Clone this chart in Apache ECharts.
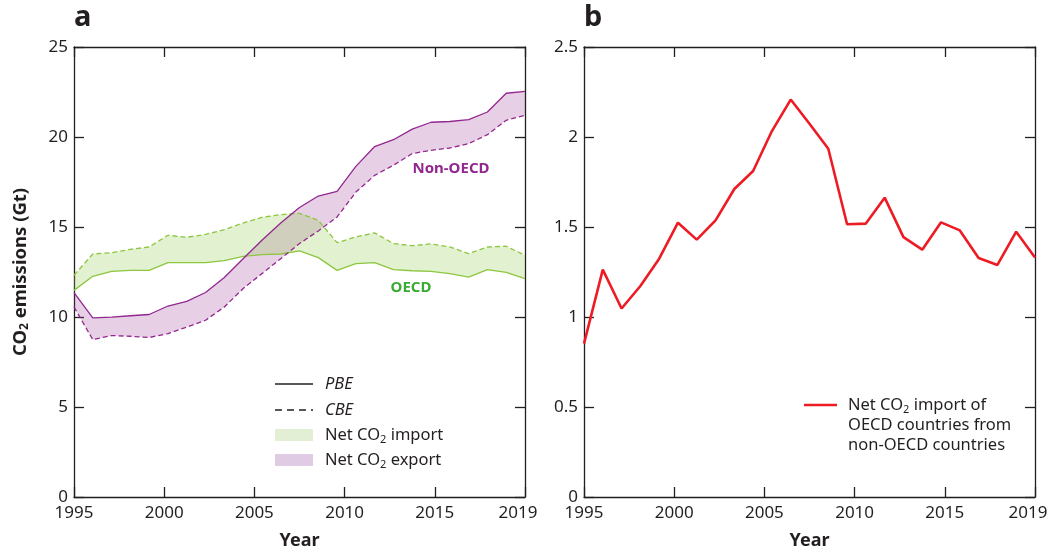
<!DOCTYPE html>
<html><head><meta charset="utf-8">
<script src="https://cdn.jsdelivr.net/npm/echarts@6/dist/echarts.min.js"></script>
<style>html,body{margin:0;padding:0;background:#fff}#c{width:1057px;height:551px}</style>
</head><body><div id="c"></div>
<script>
var years = ['1995','1996','1997','1998','1999','2000','2001','2002','2003','2004','2005','2006','2007','2008','2009','2010','2011','2012','2013','2014','2015','2016','2017','2018','2019'];
var xTickLabels = ['1995','2000','2005','2010','2015','2019'];
var nonOecdPBE = [11.36,9.95,9.99,10.07,10.14,10.61,10.87,11.36,12.19,13.24,14.26,15.22,16.08,16.72,16.98,18.37,19.47,19.85,20.44,20.82,20.86,20.97,21.39,22.43,22.54];
var nonOecdCBE = [10.56,8.74,8.97,8.93,8.86,9.08,9.44,9.82,10.56,11.58,12.41,13.24,14.08,14.78,15.56,16.94,17.87,18.43,19.08,19.26,19.39,19.63,20.13,20.93,21.21];
var oecdPBE = [11.48,12.26,12.54,12.59,12.59,13.02,13.02,13.02,13.13,13.37,13.46,13.50,13.67,13.30,12.59,12.96,13.02,12.63,12.57,12.54,12.41,12.22,12.63,12.48,12.13];
var oecdCBE = [12.32,13.50,13.57,13.76,13.89,14.54,14.43,14.59,14.85,15.22,15.54,15.69,15.76,15.37,14.13,14.45,14.67,14.08,13.96,14.06,13.89,13.52,13.89,13.93,13.43];
var netImport = [0.852,1.263,1.047,1.172,1.324,1.524,1.430,1.537,1.711,1.811,2.033,2.208,2.074,1.935,1.515,1.519,1.663,1.444,1.374,1.526,1.481,1.328,1.289,1.474,1.330];

var FONT = 'Noto Sans';
var AX = '#231f20';
var PURPLE = '#92278f', GREEN = '#8dc63f';
var FS = 17;
function diff(a, b) { return a.map(function (v, i) { return +(v - b[i]).toFixed(3); }); }

function xAxes(g) {
  return [
    { type: 'category', gridIndex: g, data: years, boundaryGap: false, show: false },
    { type: 'value', gridIndex: g, position: 'bottom', min: 1995, max: 2020, interval: 5,
      axisLine: { lineStyle: { color: AX, width: 1.3 } },
      axisTick: { inside: true, length: 10, lineStyle: { color: AX, width: 1.3 } },
      splitLine: { show: false },
      axisLabel: { color: AX, fontFamily: FONT, fontSize: FS, margin: 8,
        formatter: function (v) { var s = xTickLabels[Math.round((v - 1995) / 5)]; return v === 2020 ? '{r|' + s + '}' : s; },
        rich: { r: { fontFamily: FONT, fontSize: FS, color: AX, padding: [0, 14, 0, 0] } } },
      name: 'Year', nameLocation: 'middle', nameGap: 35,
      nameTextStyle: { fontFamily: FONT, fontWeight: 'bold', fontSize: 18, color: AX } },
    { type: 'value', gridIndex: g, position: 'top', min: 1995, max: 2020, interval: 5,
      axisLine: { lineStyle: { color: AX, width: 1.3 } },
      axisTick: { inside: true, length: 10, lineStyle: { color: AX, width: 1.3 } },
      splitLine: { show: false }, axisLabel: { show: false } }
  ];
}
function yAxes(g, max, interval, name) {
  var main = { type: 'value', gridIndex: g, position: 'left', min: 0, max: max, interval: interval,
    axisLine: { show: true, lineStyle: { color: AX, width: 1.3 } },
    axisTick: { show: true, inside: true, length: 10, lineStyle: { color: AX, width: 1.3 } },
    splitLine: { show: false },
    axisLabel: { color: AX, fontFamily: FONT, fontSize: FS, margin: 6 } };
  if (name) {
    main.name = name; main.nameLocation = 'middle'; main.nameGap = 43;
    main.nameTextStyle = { fontFamily: FONT, fontWeight: 'bold', fontSize: 18.5, color: AX,
      rich: { s: { fontFamily: FONT, fontWeight: 'bold', fontSize: 12, color: AX, verticalAlign: 'bottom', padding: [9, 0, 0, 0] } } };
  }
  var mirror = { type: 'value', gridIndex: g, position: 'right', min: 0, max: max, interval: interval,
    axisLine: { show: true, lineStyle: { color: AX, width: 1.3 } },
    axisTick: { show: true, inside: true, length: 10, lineStyle: { color: AX, width: 1.3 } },
    splitLine: { show: false }, axisLabel: { show: false } };
  return [main, mirror];
}
function line(data, color, dashed, width, xi, yi) {
  return { type: 'line', xAxisIndex: xi, yAxisIndex: yi, data: data, showSymbol: false, symbol: 'none',
    lineStyle: { color: color, width: width, type: dashed ? [5, 3] : 'solid' }, z: 5, silent: true };
}
function band(stack, data, fill) {
  var s = { type: 'line', xAxisIndex: 0, yAxisIndex: 0, stack: stack, data: data, showSymbol: false, symbol: 'none',
    lineStyle: { width: 0, opacity: 0 }, z: 2, silent: true };
  if (fill) s.areaStyle = { color: fill, opacity: 1 };
  return s;
}

var chart = echarts.init(document.getElementById('c'), null, { renderer: 'canvas' });
var sub = { fontFamily: FONT, fontSize: 11, fill: AX, padding: [10, 0, 0, 0] };
chart.setOption({
  animation: false,
  backgroundColor: '#fff',
  grid: [
    { left: 74, top: 47, width: 451, height: 450, containLabel: false, outerBoundsMode: 'none' },
    { left: 584, top: 47, width: 451, height: 450, containLabel: false, outerBoundsMode: 'none' }
  ],
  xAxis: xAxes(0).concat(xAxes(1)),
  yAxis: yAxes(0, 25, 5, 'CO{s|2} emissions (Gt)').concat(yAxes(1, 2.5, 0.5, null)),
  series: [
    band('n', nonOecdCBE, null),
    band('n', diff(nonOecdPBE, nonOecdCBE), 'rgba(147,39,143,0.22)'),
    band('o', oecdPBE, null),
    band('o', diff(oecdCBE, oecdPBE), 'rgba(141,198,63,0.25)'),
    line(oecdPBE, GREEN, false, 1.3, 0, 0),
    line(oecdCBE, GREEN, true, 1.3, 0, 0),
    line(nonOecdPBE, PURPLE, false, 1.3, 0, 0),
    line(nonOecdCBE, PURPLE, true, 1.3, 0, 0),
    line(netImport, '#ed1c24', false, 2.6, 3, 2)
  ],
  graphic: [
    { type: 'text', left: 74, top: 3, style: { text: 'a', fontFamily: FONT, fontWeight: 'bold', fontSize: 29, fill: AX } },
    { type: 'text', left: 584, top: 3, style: { text: 'b', fontFamily: FONT, fontWeight: 'bold', fontSize: 29, fill: AX } },
    { type: 'text', x: 451, y: 169, style: { text: 'Non-OECD', fontFamily: FONT, fontWeight: 'bold', fontSize: 15, fill: PURPLE, align: 'center', verticalAlign: 'middle' } },
    { type: 'text', x: 411, y: 288, style: { text: 'OECD', fontFamily: FONT, fontWeight: 'bold', fontSize: 15, fill: '#3aaa35', align: 'center', verticalAlign: 'middle' } },
    // left legend
    { type: 'line', shape: { x1: 275, y1: 384, x2: 313, y2: 384 }, style: { stroke: AX, lineWidth: 1.3 } },
    { type: 'text', x: 325, y: 384, style: { text: 'PBE', fontFamily: FONT, fontStyle: 'italic', fontSize: 16.5, fill: AX, verticalAlign: 'middle' } },
    { type: 'line', shape: { x1: 275, y1: 410, x2: 313, y2: 410 }, style: { stroke: AX, lineWidth: 1.3, lineDash: [7, 5] } },
    { type: 'text', x: 325, y: 410, style: { text: 'CBE', fontFamily: FONT, fontStyle: 'italic', fontSize: 16.5, fill: AX, verticalAlign: 'middle' } },
    { type: 'rect', shape: { x: 275, y: 429, width: 38, height: 12 }, style: { fill: '#e2efd4' } },
    { type: 'text', x: 325, y: 435, style: { text: 'Net CO{s|2} import', fontFamily: FONT, fontSize: 16.5, fill: AX, verticalAlign: 'middle', rich: { s: sub } } },
    { type: 'rect', shape: { x: 275, y: 454, width: 38, height: 12 }, style: { fill: '#dfcbe3' } },
    { type: 'text', x: 325, y: 460, style: { text: 'Net CO{s|2} export', fontFamily: FONT, fontSize: 16.5, fill: AX, verticalAlign: 'middle', rich: { s: sub } } },
    // right legend
    { type: 'line', shape: { x1: 804, y1: 405, x2: 837, y2: 405 }, style: { stroke: '#ed1c24', lineWidth: 2.6 } },
    { type: 'text', x: 848, y: 395, style: { text: 'Net CO{s|2} import of\nOECD countries from\nnon-OECD countries', fontFamily: FONT, fontSize: 16.5, fill: AX, lineHeight: 20, verticalAlign: 'top',
      rich: { s: { fontFamily: FONT, fontSize: 11, fill: AX, lineHeight: 20, padding: [10, 0, 0, 0] } } } }
  ]
});
</script></body></html>
